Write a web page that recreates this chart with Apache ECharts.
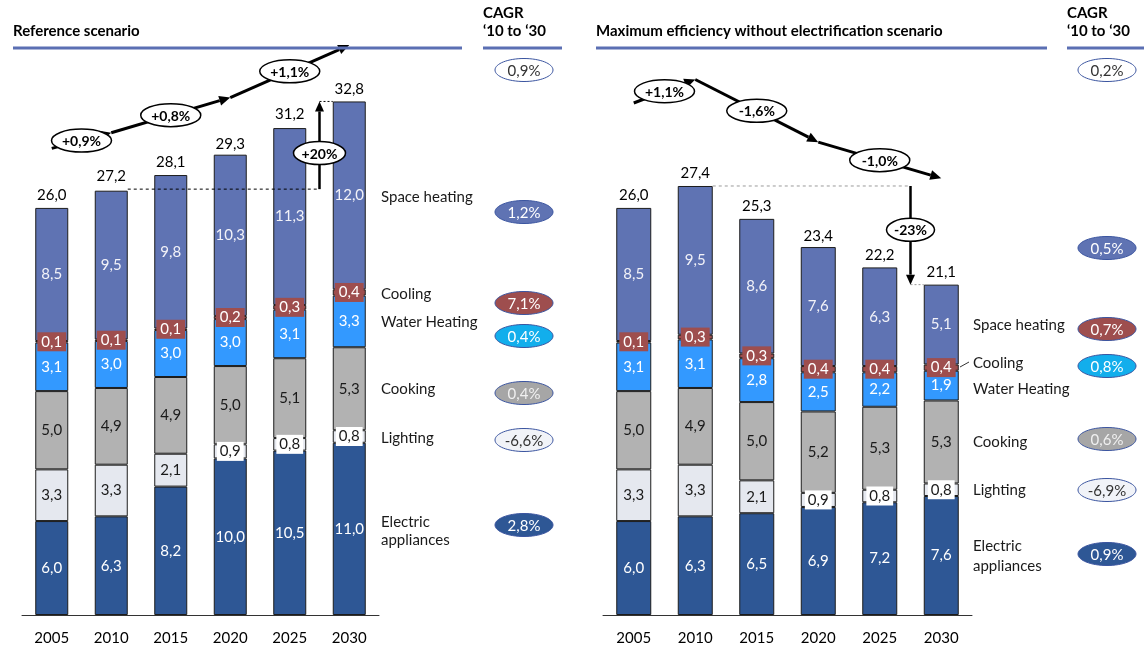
<!DOCTYPE html>
<html>
<head>
<meta charset="utf-8">
<script src="https://cdn.jsdelivr.net/npm/echarts@6/dist/echarts.min.js"></script>
<style>
html, body { margin: 0; padding: 0; background: #ffffff; }
#chart { width: 1144px; height: 650px; }
</style>
</head>
<body>
<div id="chart"></div>
<script>
// ---- data -------------------------------------------------------------
const years = ['2005', '2010', '2015', '2020', '2025', '2030'];
const segmentNames = ['Electric appliances', 'Lighting', 'Cooking', 'Water Heating', 'Cooling', 'Space heating'];

// Reference scenario (stacked from the bottom)
const refAppliances = [6.0, 6.3, 8.2, 10.0, 10.5, 11.0];
const refLighting   = [3.3, 3.3, 2.1, 0.9, 0.8, 0.8];
const refCooking    = [5.0, 4.9, 4.9, 5.0, 5.1, 5.3];
const refWater      = [3.1, 3.0, 3.0, 3.0, 3.1, 3.3];
const refCooling    = [0.1, 0.1, 0.1, 0.2, 0.3, 0.4];
const refSpace      = [8.5, 9.5, 9.8, 10.3, 11.3, 12.0];
const refTotals     = [26.0, 27.2, 28.1, 29.3, 31.2, 32.8];
const refCagr       = ['0,9%', '1,2%', '7,1%', '0,4%', '0,4%', '-6,6%', '2,8%'];
const refSteps      = ['+0,9%', '+0,8%', '+1,1%'];
const refGap        = '+20%';

// Maximum efficiency without electrification scenario
const effAppliances = [6.0, 6.3, 6.5, 6.9, 7.2, 7.6];
const effLighting   = [3.3, 3.3, 2.1, 0.9, 0.8, 0.8];
const effCooking    = [5.0, 4.9, 5.0, 5.2, 5.3, 5.3];
const effWater      = [3.1, 3.1, 2.8, 2.5, 2.2, 1.9];
const effCooling    = [0.1, 0.3, 0.3, 0.4, 0.4, 0.4];
const effSpace      = [8.5, 9.5, 8.6, 7.6, 6.3, 5.1];
const effTotals     = [26.0, 27.4, 25.3, 23.4, 22.2, 21.1];
const effCagr       = ['0,2%', '0,5%', '0,7%', '0,8%', '0,6%', '-6,9%', '0,9%'];
const effSteps      = ['+1,1%', '-1,6%', '-1,0%'];
const effGap        = '-23%';

// ---- styling ----------------------------------------------------------
const FONT = 'Lato, "Open Sans", sans-serif';
const segColors = ['#2E5795', '#E5E8EF', '#B2B2B2', '#3399FF', '#9E4E4E', '#5F73B3'];
const segText   = ['#ffffff', '#1a1a1a', '#1a1a1a', '#ffffff', '#ffffff', '#f2f2f8'];
const pillFill  = ['#ffffff', '#5F73B3', '#9E4E4E', '#12AEEC', '#A6A6A6', '#F1F3F8', '#2E5795'];
const pillText  = ['#333333', '#ffffff', '#ffffff', '#ffffff', '#f0f0f0', '#333333', '#ffffff'];
const HEADER_BLUE = '#5B6FB3';

const fmt = v => v.toFixed(1).replace('.', ',');

function segmentData(values, segIdx) {
  return values.map(v => {
    const item = { value: v };
    if (segIdx === 1 && v < 1) {
      item.label = { backgroundColor: '#ffffff', padding: [2, 3] };
    }
    return item;
  });
}

function stackSeries(axisIdx, arrays, barWidth) {
  return arrays.map((arr, i) => ({
    name: segmentNames[i],
    type: 'bar',
    stack: 'total' + axisIdx,
    xAxisIndex: axisIdx,
    yAxisIndex: axisIdx,
    barWidth: barWidth,
    data: segmentData(arr, i),
    itemStyle: { color: segColors[i], borderColor: '#1c1c1c', borderWidth: 1 },
    label: Object.assign({
      show: true,
      position: 'inside',
      formatter: p => fmt(p.value),
      color: segText[i],
      fontFamily: FONT,
      fontSize: 15
    }, i === 4 ? { backgroundColor: '#9E4E4E', padding: [2, 4] } : {}),
    emphasis: { disabled: true }
  }));
}

// invisible anchor points at each stack total, carrying the total label
function totalSeries(axisIdx, totals) {
  return {
    type: 'scatter',
    xAxisIndex: axisIdx,
    yAxisIndex: axisIdx,
    symbolSize: 0,
    itemStyle: { color: '#000000', opacity: 1 },
    data: totals,
    label: {
      show: true,
      position: 'top',
      distance: 5,
      formatter: p => fmt(p.value),
      color: '#000000',
      opacity: 1,
      fontFamily: FONT,
      fontSize: 15
    },
    emphasis: { disabled: true },
    z: 5
  };
}

const xAxisBase = {
  type: 'category',
  data: years,
  axisLine: { lineStyle: { color: '#333333', width: 1 } },
  axisTick: { show: false },
  axisLabel: { margin: 16, fontSize: 15, color: '#000000', fontFamily: FONT }
};
const yAxisBase = { type: 'value', min: 0, max: 35, show: false, splitLine: { show: false } };

const chart = echarts.init(document.getElementById('chart'), null, { renderer: 'canvas' });
chart.setOption({
  animation: false,
  backgroundColor: '#ffffff',
  grid: [
    { left: 22, top: 67, width: 357, height: 548 },
    { left: 603, top: 67, width: 369, height: 548 }
  ],
  xAxis: [Object.assign({ gridIndex: 0 }, xAxisBase), Object.assign({ gridIndex: 1 }, xAxisBase)],
  yAxis: [Object.assign({ gridIndex: 0 }, yAxisBase), Object.assign({ gridIndex: 1 }, yAxisBase)],
  series: [
    ...stackSeries(0, [refAppliances, refLighting, refCooking, refWater, refCooling, refSpace], 33),
    totalSeries(0, refTotals),
    ...stackSeries(1, [effAppliances, effLighting, effCooking, effWater, effCooling, effSpace], 35),
    totalSeries(1, effTotals)
  ]
});

// ---- annotations ------------------------------------------------------
const px = (axis, cat, val) => chart.convertToPixel({ xAxisIndex: axis, yAxisIndex: axis }, [cat, val]);
const g = [];

function arrow(p1, p2, w, head) {
  const dx = p2[0] - p1[0], dy = p2[1] - p1[1];
  const len = Math.hypot(dx, dy), ux = dx / len, uy = dy / len;
  const base = [p2[0] - ux * head, p2[1] - uy * head];
  const nx = -uy, ny = ux, hw = head * 0.45;
  g.push({ type: 'line', silent: true, z: 10,
    shape: { x1: p1[0], y1: p1[1], x2: base[0], y2: base[1] },
    style: { stroke: '#000000', lineWidth: w } });
  g.push({ type: 'polygon', silent: true, z: 10,
    shape: { points: [p2, [base[0] + nx * hw, base[1] + ny * hw], [base[0] - nx * hw, base[1] - ny * hw]] },
    style: { fill: '#000000' } });
}

function bubble(cx, cy, rx, ry, text) {
  g.push({ type: 'ellipse', silent: true, z: 11,
    shape: { cx: cx, cy: cy, rx: rx, ry: ry },
    style: { fill: '#ffffff', stroke: '#000000', lineWidth: 1.5 } });
  g.push({ type: 'text', silent: true, z: 12, x: cx, y: cy + 1,
    style: { text: text, fill: '#000000', font: 'bold 14px ' + FONT, align: 'center', verticalAlign: 'middle' } });
}

function pill(cx, cy, idx, text) {
  g.push({ type: 'ellipse', silent: true, z: 11,
    shape: { cx: cx, cy: cy, rx: 29, ry: 11.5 },
    style: { fill: pillFill[idx], stroke: '#3B55A0', lineWidth: 1 } });
  g.push({ type: 'text', silent: true, z: 12, x: cx, y: cy + 1,
    style: { text: text, fill: pillText[idx], font: '15px ' + FONT, align: 'center', verticalAlign: 'middle' } });
}

function label(x, y, text) {
  g.push({ type: 'text', silent: true, z: 12, x: x, y: y,
    style: { text: text, fill: '#1a1a1a', font: '15px ' + FONT, align: 'left', verticalAlign: 'middle' } });
}

function header(x, lineEnd, titleLines) {
  titleLines.forEach((t, i) => {
    g.push({ type: 'text', silent: true, z: 12, x: x, y: titleLines.length === 1 ? 31 : 13 + i * 18,
      style: { text: t, fill: '#000000', font: 'bold 15px ' + FONT, align: 'left', verticalAlign: 'middle' } });
  });
  g.push({ type: 'line', silent: true, z: 12,
    shape: { x1: x, y1: 48, x2: lineEnd, y2: 48 },
    style: { stroke: HEADER_BLUE, lineWidth: 3 } });
}

function midpoint(a, b) { return [(a[0] + b[0]) / 2, (a[1] + b[1]) / 2]; }

// headers
header(13, 462, ['Reference scenario']);
header(483, 562, ['CAGR', '‘10 to ‘30']);
header(596, 1047, ['Maximum efficiency without electrification scenario']);
header(1067, 1144, ['CAGR', '‘10 to ‘30']);

// Reference scenario: growth path
const refPath = [px(0, 0, 29.8), px(0, 1, 30.8), px(0, 3, 33.05), px(0, 5, 36.4)];
for (let i = 0; i < 3; i++) {
  arrow(refPath[i], refPath[i + 1], 3, 11);
}
for (let i = 0; i < 3; i++) {
  const m = midpoint(refPath[i], refPath[i + 1]);
  bubble(m[0], m[1], 30, 11.5, refSteps[i]);
}

// Reference scenario: 2010 -> 2030 gap
{
  const xMid = (px(0, 4, 0)[0] + px(0, 5, 0)[0]) / 2;
  const y2010 = px(0, 1, refTotals[1])[1];
  const y2030 = px(0, 5, refTotals[5])[1];
  const bar2010Right = px(0, 1, 0)[0] + 16.5;
  const bar2030Left = px(0, 5, 0)[0] - 16.5;
  g.push({ type: 'line', silent: true, z: 9,
    shape: { x1: bar2010Right, y1: y2010, x2: xMid, y2: y2010 },
    style: { stroke: '#000000', lineWidth: 1, lineDash: [3, 3] } });
  g.push({ type: 'line', silent: true, z: 9,
    shape: { x1: xMid, y1: y2030, x2: bar2030Left, y2: y2030 },
    style: { stroke: '#000000', lineWidth: 1, lineDash: [2, 2] } });
  arrow([xMid, y2010], [xMid, y2030], 2.5, 10);
  const b = px(0, 5, 29.5);
  bubble(xMid, b[1], 26, 11.5, refGap);
}

// Maximum efficiency: growth path
const effPath = [px(1, 0, 32.7), px(1, 1, 34.2), px(1, 3, 30.2), px(1, 5, 27.9)];
for (let i = 0; i < 3; i++) {
  arrow(effPath[i], effPath[i + 1], 3, 11);
}
for (let i = 0; i < 3; i++) {
  const m = midpoint(effPath[i], effPath[i + 1]);
  bubble(m[0], m[1], 30, 11.5, effSteps[i]);
}

// Maximum efficiency: 2010 -> 2030 gap
{
  const xMid = (px(1, 4, 0)[0] + px(1, 5, 0)[0]) / 2;
  const y2010 = px(1, 1, effTotals[1])[1];
  const y2030 = px(1, 5, effTotals[5])[1];
  const bar2010Right = px(1, 1, 0)[0] + 17.5;
  const bar2030Left = px(1, 5, 0)[0] - 17.5;
  g.push({ type: 'line', silent: true, z: 9,
    shape: { x1: bar2010Right, y1: y2010, x2: xMid, y2: y2010 },
    style: { stroke: '#9a9a9a', lineWidth: 1, lineDash: [3, 3] } });
  g.push({ type: 'line', silent: true, z: 9,
    shape: { x1: xMid, y1: y2030, x2: bar2030Left, y2: y2030 },
    style: { stroke: '#9a9a9a', lineWidth: 1, lineDash: [2, 2] } });
  arrow([xMid, y2010], [xMid, y2030], 2.5, 10);
  const b = px(1, 5, 24.6);
  bubble(xMid, b[1], 24, 11.5, effGap);
}

// segment names, reference scenario
label(381, 197, 'Space heating');
label(381, 294, 'Cooling');
label(381, 322, 'Water Heating');
label(381, 389, 'Cooking');
label(381, 438, 'Lighting');
label(381, 522, 'Electric');
label(381, 540, 'appliances');

// segment names, maximum efficiency scenario
label(973, 325, 'Space heating');
label(973, 363, 'Cooling');
g.push({ type: 'line', silent: true, z: 12,
  shape: { x1: 960, y1: 367, x2: 969, y2: 362 },
  style: { stroke: '#333333', lineWidth: 1 } });
label(973, 389, 'Water Heating');
label(973, 442, 'Cooking');
label(973, 490, 'Lighting');
label(973, 546, 'Electric');
label(973, 566, 'appliances');

// CAGR pills
[70, 212, 303, 336, 393, 440, 525].forEach((y, i) => pill(524, y, i, refCagr[i]));
[70, 248, 329, 366, 439, 490, 554].forEach((y, i) => pill(1107, y, i, effCagr[i]));

chart.setOption({ graphic: g });
</script>
</body>
</html>
